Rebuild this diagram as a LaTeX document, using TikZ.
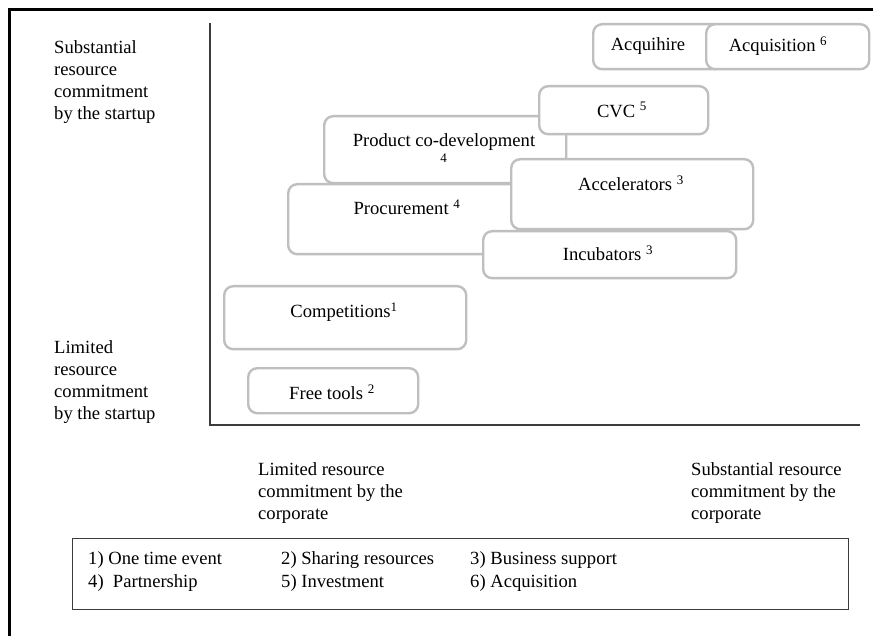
\documentclass[tikz,border=0pt]{standalone}
\usepackage{fontspec}
\setmainfont{Liberation Serif}
\definecolor{boxgray}{RGB}{191,191,191}
\definecolor{axisgray}{RGB}{60,60,60}
\begin{document}
\begin{tikzpicture}[x=1pt,y=-1pt,
  box/.style={draw=boxgray, line width=2.4pt, rounded corners=9pt, fill=white,
    anchor=north west, inner sep=0pt},
  lbl/.style={inner sep=0pt, font=\fontsize{18.6}{22}\selectfont},
  side/.style={lbl, align=left, anchor=north west},
  legtext/.style={lbl, anchor=base west}]
\useasboundingbox (0,0) rectangle (873,636);

% outer frame (runs off the page to the right and bottom)
\draw[line width=2.6pt] (9.5,650) -- (9.5,9.5) -- (890,9.5);

% axes
\coordinate (ytop) at (210,23);
\coordinate (origin) at (210,425);
\coordinate (xend) at (860,425);
\draw[axisgray, line width=1.5pt] (ytop) -- (origin) -- (xend);

% axis captions
\node[side] (ysub) at (54,40) {Substantial\\resource\\commitment\\by the startup};
\node[side] (ylim) at (54,340) {Limited\\resource\\commitment\\by the startup};
\node[side] (xlim) at (258,462) {Limited resource\\commitment by the\\corporate};
\node[side] (xsub) at (691,462) {Substantial resource\\commitment by the\\corporate};

% top row
\node[box, minimum width=130, minimum height=45] (acquihire) at (592,23) {};
\node[lbl] (acquihireT) at (648,46) {Acquihire};
\node[box, minimum width=163, minimum height=45] (acquisition) at (705,23) {};
\node[lbl] (acquisitionT) at (778,46) {Acquisition \textsuperscript{6}};

% partnership / investment cluster
\node[box, minimum width=242, minimum height=67] (codev) at (323,115) {};
\node[lbl] (codevT) at (444,142) {Product co-development};
\node[lbl] (codevS) at (444,161) {\textsuperscript{4}};
\node[box, minimum width=169, minimum height=48] (cvc) at (538,85) {};
\node[lbl] (cvcT) at (622,110) {CVC \textsuperscript{5}};
\node[box, minimum width=241, minimum height=70] (procure) at (287,183) {};
\node[lbl] (procureT) at (407,207) {Procurement \textsuperscript{4}};
\node[box, minimum width=242, minimum height=70] (accel) at (510,158) {};
\node[lbl] (accelT) at (631,183) {Accelerators \textsuperscript{3}};
\node[box, minimum width=253, minimum height=47] (incub) at (482,230) {};
\node[lbl] (incubT) at (608,253) {Incubators \textsuperscript{3}};

% low-commitment boxes
\node[box, minimum width=242, minimum height=63] (compet) at (223,285) {};
\node[lbl] (competT) at (344,312) {Competitions\textsuperscript{1}};
\node[box, minimum width=170, minimum height=45] (tools) at (247,367) {};
\node[lbl] (toolsT) at (332,392) {Free tools \textsuperscript{2}};

% legend
\node[draw=axisgray, line width=1.4pt, minimum width=776, minimum height=71,
  anchor=north west, inner sep=0pt] (legend) at (72,538) {};
\node[legtext] (l1) at (88,564) {1) One time event};
\node[legtext] (l2) at (281,564) {2) Sharing resources};
\node[legtext] (l3) at (470,564) {3) Business support};
\node[legtext] (l4) at (88,587) {4)\ \ Partnership};
\node[legtext] (l5) at (281,587) {5) Investment};
\node[legtext] (l6) at (470,587) {6) Acquisition};
\end{tikzpicture}
\end{document}
